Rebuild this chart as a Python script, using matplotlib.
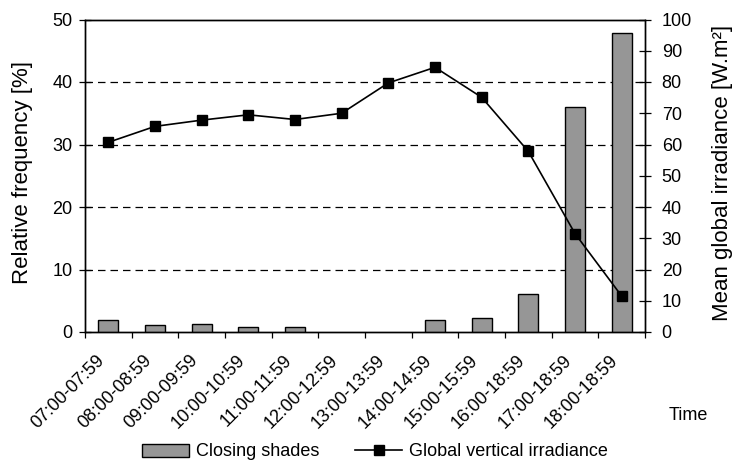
import matplotlib
matplotlib.use('Agg')
import matplotlib.pyplot as plt
import matplotlib.transforms as mtransforms
import numpy as np

plt.rcParams['font.family'] = ['Liberation Sans', 'DejaVu Sans']

# data
time_slots = ['07:00-07:59', '08:00-08:59', '09:00-09:59', '10:00-10:59',
              '11:00-11:59', '12:00-12:59', '13:00-13:59', '14:00-14:59',
              '15:00-15:59', '16:00-18:59', '17:00-18:59', '18:00-18:59']
closing_shades = [1.9, 1.1, 1.35, 0.8, 0.8, 0.0, 0.0, 1.9, 2.2, 6.1, 36.0, 47.9]
irradiance = [60.7, 65.8, 67.8, 69.5, 68.0, 70.0, 79.7, 84.7, 75.1, 57.8, 31.5, 11.5]

FS = 13

fig = plt.figure(figsize=(7.37, 4.68), dpi=100)
ax = fig.add_axes([85 / 737, 1 - 332 / 468, 560 / 737, 312.5 / 468])
ax2 = ax.twinx()

x = np.arange(len(time_slots))
bars = ax.bar(x, closing_shades, width=0.43, color='#969696', edgecolor='black',
              linewidth=1.0, zorder=3, label='Closing shades')
for b, v in zip(bars, closing_shades):
    if v == 0:
        b.set_visible(False)
for y in (10, 20, 30, 40):
    ax.axhline(y, color='black', lw=0.9, ls=(0, (6, 4)), zorder=1)

line, = ax2.plot(x, irradiance, '-s', color='black', lw=1.2, ms=7,
                 label='Global vertical irradiance', zorder=4)

ax.set_xlim(-0.5, len(time_slots) - 0.5)
ax.set_ylim(0, 50)
ax2.set_ylim(0, 100)
ax.set_yticks(range(0, 51, 10))
ax2.set_yticks(range(0, 101, 10))

ax.set_xticks(np.arange(-0.5, len(time_slots), 1.0))
ax.set_xticklabels([])
ax.tick_params(axis='x', direction='out', length=4, width=0.9)
ax.tick_params(axis='y', direction='inout', length=8, width=0.9, labelsize=FS, pad=5)
ax2.tick_params(axis='y', direction='inout', length=8, width=0.9, labelsize=FS, pad=8)

# rotated category labels, right end near each category centre
offset = mtransforms.ScaledTranslation(-6 / 100, -26 / 100, fig.dpi_scale_trans)
trans = mtransforms.blended_transform_factory(ax.transData, ax.transAxes) + offset
for xi, lab in zip(x, time_slots):
    ax.text(xi, 0, lab, rotation=45, ha='right', va='center', rotation_mode='anchor',
            transform=trans, fontsize=FS)

ax.set_ylabel('Relative frequency [%]', fontsize=16)
ax2.set_ylabel('Mean global irradiance [W.m²]', fontsize=16)
ax.yaxis.set_label_coords((33 - 85) / 560, 0.51)
ax2.yaxis.set_label_coords((712 - 85) / 560, 0.51)
fig.text(688 / 737, 1 - 415 / 468, 'Time', fontsize=FS, ha='center', va='center')

for sp in list(ax.spines.values()) + list(ax2.spines.values()):
    sp.set_linewidth(1.0)

ax.set_zorder(ax2.get_zorder() - 1)
ax.patch.set_visible(True)
ax2.patch.set_visible(False)

fig.legend([bars, line], ['Closing shades', 'Global vertical irradiance'],
           loc='center', bbox_to_anchor=(375 / 737, 1 - 452 / 468), ncol=2,
           frameon=False, fontsize=FS, handlelength=2.6, columnspacing=2.0,
           handletextpad=0.4)

fig.savefig('out.png', dpi=100)
